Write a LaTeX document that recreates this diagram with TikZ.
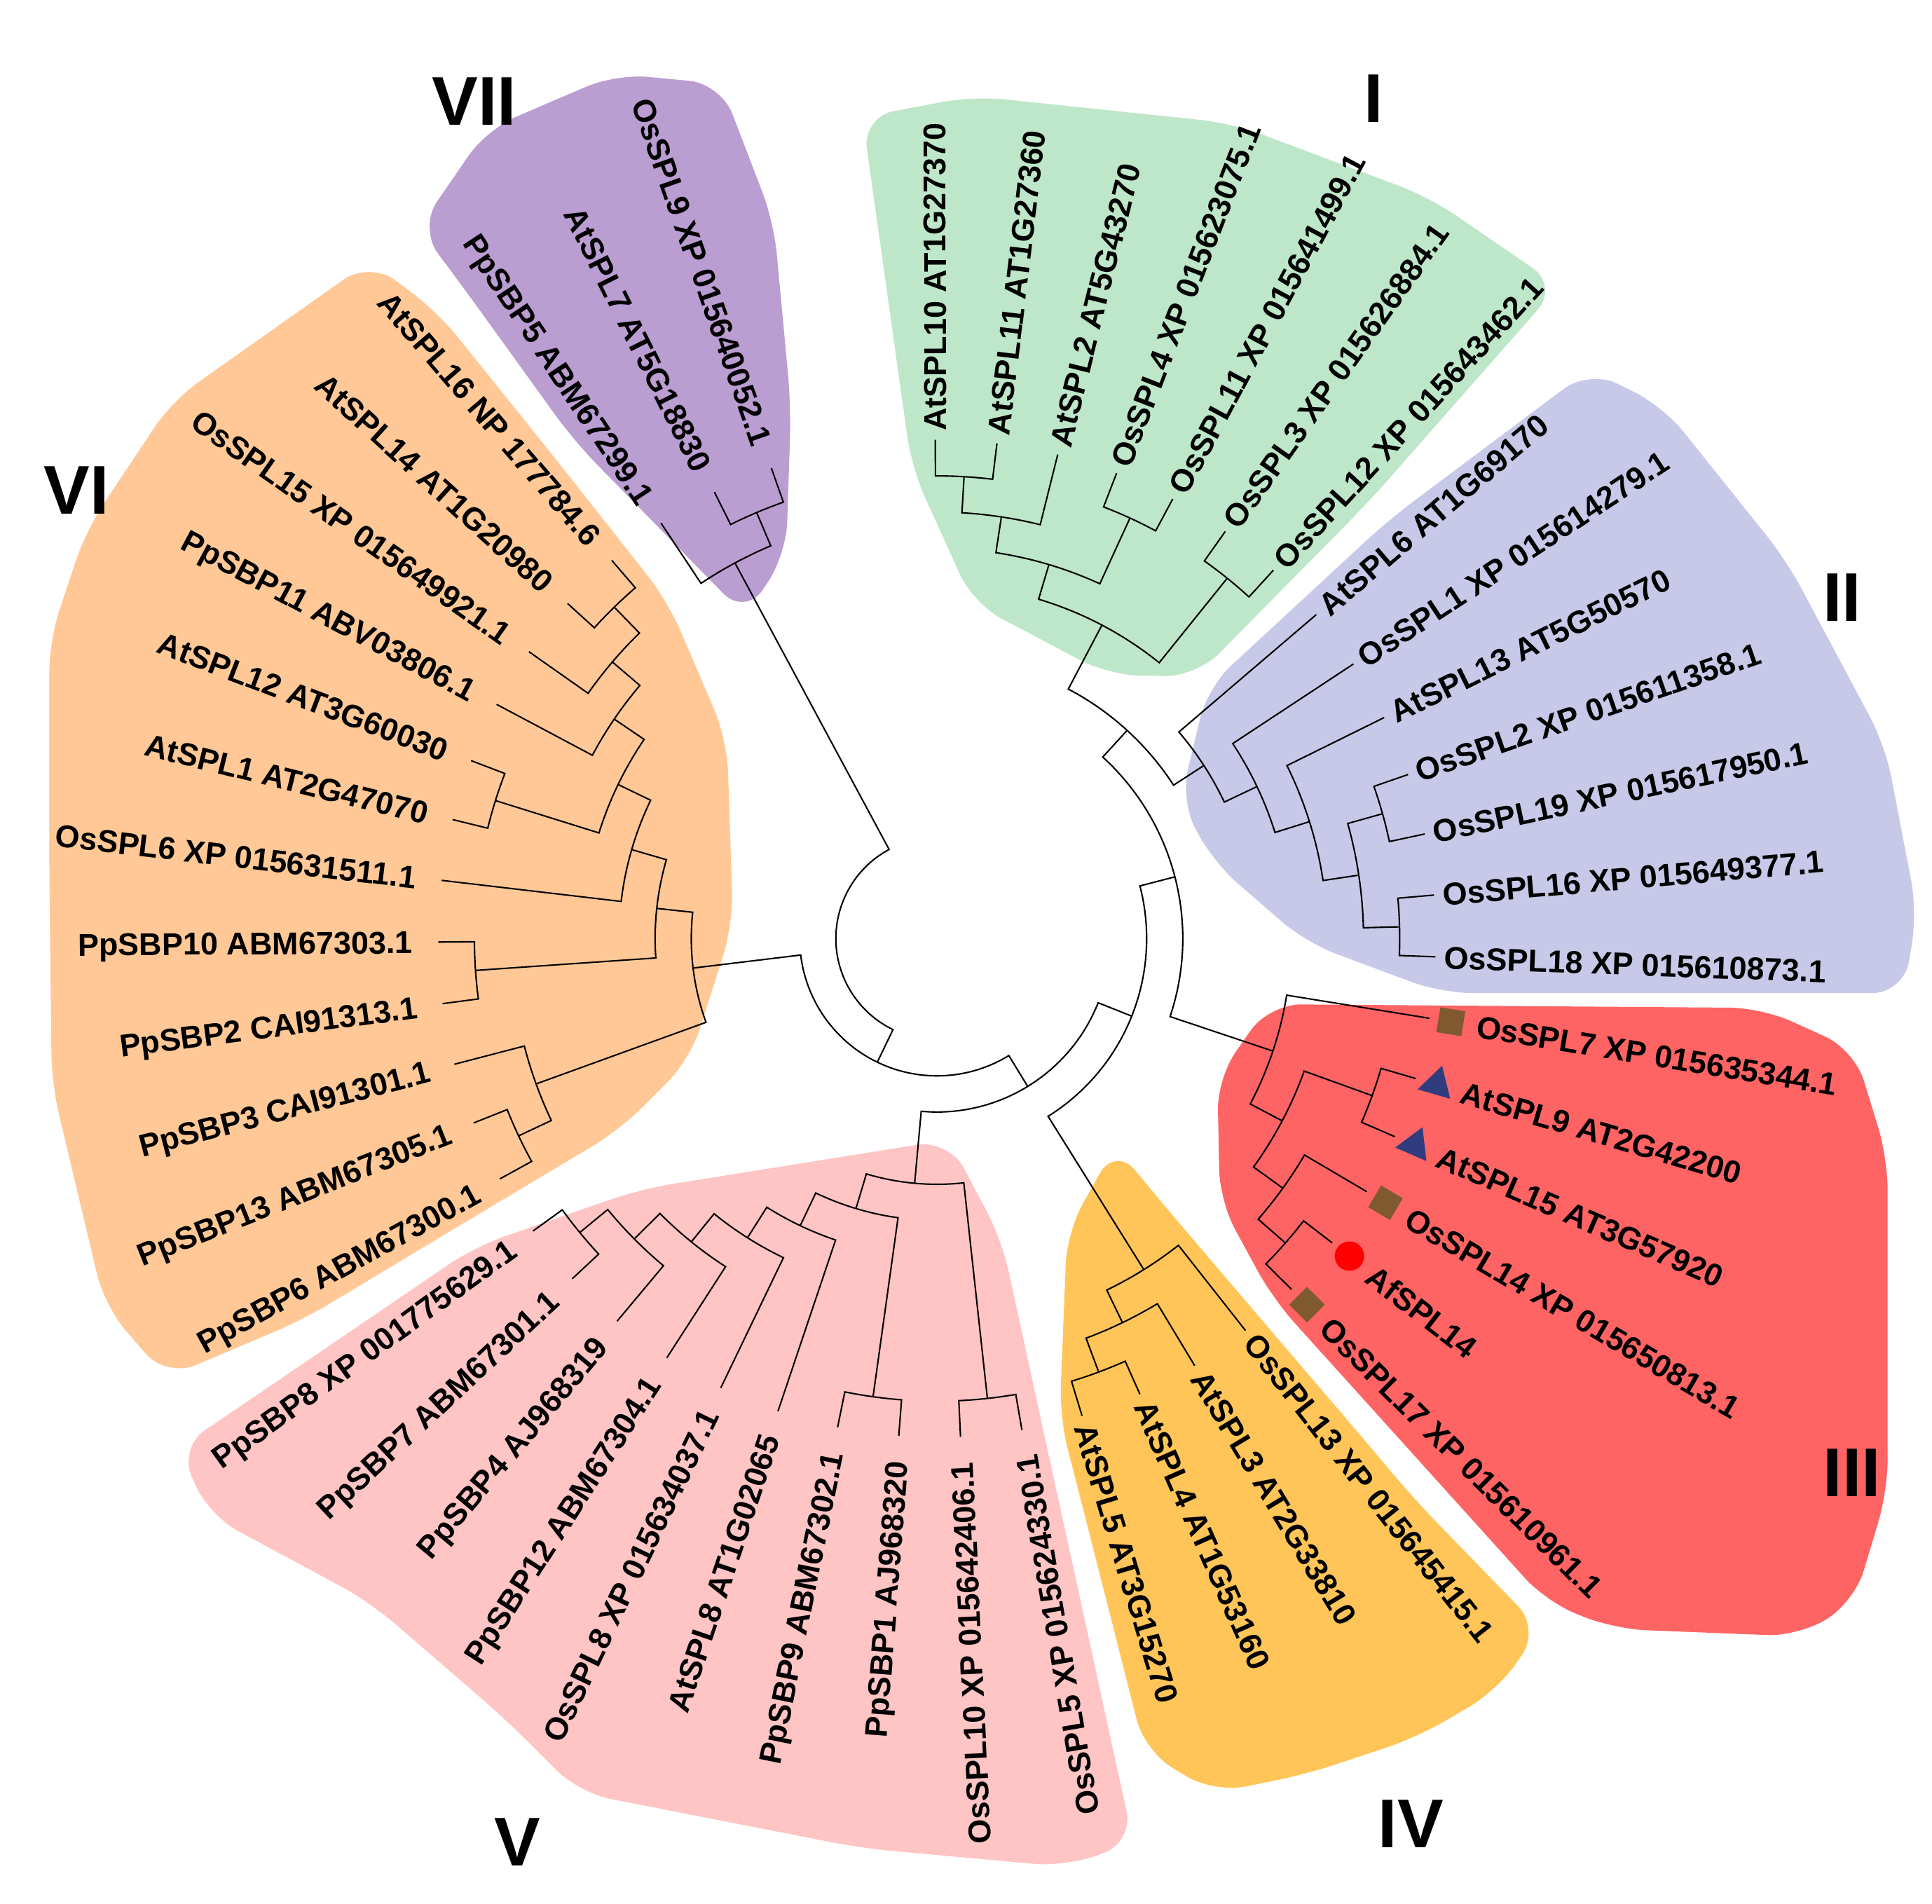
\documentclass[tikz,border=0pt]{standalone}
\usepackage{fontspec}
\setmainfont{Liberation Sans}
\usetikzlibrary{shapes.geometric}

\definecolor{grpI}{HTML}{BEE6C8}
\definecolor{grpII}{HTML}{C8C8E8}
\definecolor{grpIII}{HTML}{FF6464}
\definecolor{grpIV}{HTML}{FFC558}
\definecolor{grpV}{HTML}{FFC4C4}
\definecolor{grpVI}{HTML}{FFC896}
\definecolor{grpVII}{HTML}{BA9DD1}
\definecolor{mkbrown}{HTML}{7F5A2E}
\definecolor{mknavy}{HTML}{2F3C7E}

\tikzset{
  br/.style={line width=0.6pt},
  lab/.style={inner sep=0pt, font=\bfseries\fontsize{12.8}{13}\selectfont, text height=9.2pt, text depth=0pt},
  labR/.style={lab, anchor=west},
  labL/.style={lab, anchor=east},
  grp/.style={font=\bfseries\fontsize{28}{30}\selectfont},
  blob/.style={rounded corners=0.45cm},
  sqm/.style={rectangle, fill=mkbrown, minimum size=0.36cm, inner sep=0pt},
  trm/.style={regular polygon, regular polygon sides=3, fill=mknavy, minimum size=0.56cm, inner sep=0pt},
  cim/.style={circle, fill=red, minimum size=0.42cm, inner sep=0pt},
}

\begin{document}
\begin{tikzpicture}[x=0.01cm, y=0.01cm]
  % group backgrounds and group names
  \begin{scope}[x=0.01758cm, y=-0.01758cm, shift={(-760.5,-761.7)}]
    \useasboundingbox (0,0) rectangle (1568,1545);
    \fill[grpVII, blob] (635,255) -- (642,330) -- (638,450) -- (605,500) -- (466,358) -- (378,236) -- (340,185) -- (395,105) -- (500,60) -- (585,68) -- (628,180) -- cycle;
    \fill[grpI, blob] (1080,130) -- (1160,160) -- (1265,232) -- (1112,406) -- (971,549) -- (900,548) -- (790,490) -- (740,380) -- (700,95) -- (790,78) -- (1000,100) -- cycle;
    \fill[grpII, blob] (1350,806) -- (1170,806) -- (1060,765) -- (985,700) -- (958,650) -- (980,558) -- (1127,422) -- (1290,300) -- (1350,330) -- (1450,455) -- (1530,605) -- (1556,740) -- (1545,806) -- cycle;
    \fill[grpIII, blob] (1532,1080) -- (1532,1210) -- (1505,1300) -- (1460,1328) -- (1310,1322) -- (1255,1300) -- (1033,1054) -- (990,975) -- (988,875) -- (1030,815) -- (1430,818) -- (1505,852) -- (1532,940) -- cycle;
    \fill[grpIV, blob] (1100,1160) -- (1149,1218) -- (1250,1322) -- (1215,1372) -- (1150,1410) -- (1060,1440) -- (985,1455) -- (929,1421) -- (897,1295) -- (860,1150) -- (866,1000) -- (905,930) -- (942,975) -- (1052,1104) -- cycle;
    \fill[grpV, blob] (645,945) -- (770,925) -- (813,1006) -- (845,1153) -- (877,1299) -- (909,1446) -- (920,1495) -- (865,1515) -- (700,1500) -- (470,1455) -- (410,1395) -- (300,1300) -- (170,1230) -- (145,1175) -- (200,1138) -- (385,1012) -- (520,965) -- cycle;
    \fill[grpVI, blob] (40,700) -- (42,880) -- (85,1060) -- (135,1118) -- (246,1071) -- (374,994) -- (503,917) -- (560,860) -- (595,750) -- (590,600) -- (542,488) -- (449,370) -- (355,253) -- (300,212) -- (140,325) -- (70,430) -- (40,520) -- cycle;
    \node[grp] (gI) at (1115,80) {I};
    \node[grp] (gII) at (1495,485) {II};
    \node[grp] (gIII) at (1503,1195) {III};
    \node[grp] (gIV) at (1145,1480) {IV};
    \node[grp] (gV) at (420,1495) {V};
    \node[grp] (gVI) at (62,398) {VI};
    \node[grp] (gVII) at (385,82) {VII};
  \end{scope}

  % leaves, group II
  \coordinate (OsSPL18) at (-2.10:712);
  \node[labR, rotate=-2.10] (tOsSPL18) at (-2.10:724) {OsSPL18 XP 015610873.1};
  \coordinate (OsSPL16) at (5.00:712);
  \node[labR, rotate=5.00] (tOsSPL16) at (5.00:724) {OsSPL16 XP 015649377.1};
  \coordinate (OsSPL19) at (12.10:712);
  \node[labR, rotate=12.10] (tOsSPL19) at (12.10:724) {OsSPL19 XP 015617950.1};
  \coordinate (OsSPL2) at (19.20:712);
  \node[labR, rotate=19.20] (tOsSPL2) at (19.20:724) {OsSPL2 XP 015611358.1};
  \coordinate (AtSPL13) at (26.30:712);
  \node[labR, rotate=26.30] (tAtSPL13) at (26.30:724) {AtSPL13 AT5G50570};
  \coordinate (OsSPL1) at (33.40:712);
  \node[labR, rotate=33.40] (tOsSPL1) at (33.40:724) {OsSPL1 XP 015614279.1};
  \coordinate (AtSPL6) at (40.50:712);
  \node[labR, rotate=40.50] (tAtSPL6) at (40.50:724) {AtSPL6 AT1G69170};
  % leaves, group I
  \coordinate (OsSPL12) at (47.60:712);
  \node[labR, rotate=47.60] (tOsSPL12) at (47.60:724) {OsSPL12 XP 015643462.1};
  \coordinate (OsSPL3) at (54.70:712);
  \node[labR, rotate=54.70] (tOsSPL3) at (54.70:724) {OsSPL3 XP 015626884.1};
  \coordinate (OsSPL11) at (61.80:712);
  \node[labR, rotate=61.80] (tOsSPL11) at (61.80:724) {OsSPL11 XP 015641499.1};
  \coordinate (OsSPL4) at (68.90:712);
  \node[labR, rotate=68.90] (tOsSPL4) at (68.90:724) {OsSPL4 XP 015623075.1};
  \coordinate (AtSPL2) at (76.00:712);
  \node[labR, rotate=76.00] (tAtSPL2) at (76.00:724) {AtSPL2 AT5G43270};
  \coordinate (AtSPL11) at (83.10:712);
  \node[labR, rotate=83.10] (tAtSPL11) at (83.10:724) {AtSPL11 AT1G27360};
  \coordinate (AtSPL10) at (90.20:712);
  \node[labR, rotate=90.20] (tAtSPL10) at (90.20:724) {AtSPL10 AT1G27370};
  % leaves, group VII
  \coordinate (OsSPL9) at (109.40:712);
  \node[labL, rotate=-70.60] (tOsSPL9) at (109.40:748) {OsSPL9 XP 015640052.1};
  \coordinate (AtSPL7) at (116.50:712);
  \node[labL, rotate=-63.50] (tAtSPL7) at (116.50:748) {AtSPL7 AT5G18830};
  \coordinate (PpSBP5) at (123.60:712);
  \node[labL, rotate=-56.40] (tPpSBP5) at (123.60:748) {PpSBP5 ABM67299.1};
  % leaves, group VI
  \coordinate (AtSPL16) at (130.70:712);
  \node[labL, rotate=-49.30] (tAtSPL16) at (130.70:748) {AtSPL16 NP 177784.6};
  \coordinate (AtSPL14) at (137.80:712);
  \node[labL, rotate=-42.20] (tAtSPL14) at (137.80:748) {AtSPL14 AT1G20980};
  \coordinate (OsSPL15) at (144.90:712);
  \node[labL, rotate=-35.10] (tOsSPL15) at (144.90:748) {OsSPL15 XP 015649921.1};
  \coordinate (PpSBP11) at (152.00:712);
  \node[labL, rotate=-28.00] (tPpSBP11) at (152.00:748) {PpSBP11 ABV03806.1};
  \coordinate (AtSPL12) at (159.10:712);
  \node[labL, rotate=-20.90] (tAtSPL12) at (159.10:748) {AtSPL12 AT3G60030};
  \coordinate (AtSPL1) at (166.20:712);
  \node[labL, rotate=-13.80] (tAtSPL1) at (166.20:748) {AtSPL1 AT2G47070};
  \coordinate (OsSPL6) at (173.30:712);
  \node[labL, rotate=-6.70] (tOsSPL6) at (173.30:748) {OsSPL6 XP 015631511.1};
  \coordinate (PpSBP10) at (180.40:712);
  \node[labL, rotate=0.40] (tPpSBP10) at (180.40:748) {PpSBP10 ABM67303.1};
  \coordinate (PpSBP2) at (187.50:712);
  \node[labL, rotate=7.50] (tPpSBP2) at (187.50:748) {PpSBP2 CAI91313.1};
  \coordinate (PpSBP3) at (194.60:712);
  \node[labL, rotate=14.60] (tPpSBP3) at (194.60:748) {PpSBP3 CAI91301.1};
  \coordinate (PpSBP13) at (201.70:712);
  \node[labL, rotate=21.70] (tPpSBP13) at (201.70:748) {PpSBP13 ABM67305.1};
  \coordinate (PpSBP6) at (208.80:712);
  \node[labL, rotate=28.80] (tPpSBP6) at (208.80:748) {PpSBP6 ABM67300.1};
  % leaves, group V
  \coordinate (PpSBP8) at (215.90:712);
  \node[labL, rotate=35.90] (tPpSBP8) at (215.90:748) {PpSBP8 XP 001775629.1};
  \coordinate (PpSBP7) at (223.00:712);
  \node[labL, rotate=43.00] (tPpSBP7) at (223.00:748) {PpSBP7 ABM67301.1};
  \coordinate (PpSBP4) at (230.10:712);
  \node[labL, rotate=50.10] (tPpSBP4) at (230.10:748) {PpSBP4 AJ968319};
  \coordinate (PpSBP12) at (237.20:712);
  \node[labL, rotate=57.20] (tPpSBP12) at (237.20:748) {PpSBP12 ABM67304.1};
  \coordinate (OsSPL8) at (244.30:712);
  \node[labL, rotate=64.30] (tOsSPL8) at (244.30:748) {OsSPL8 XP 015634037.1};
  \coordinate (AtSPL8) at (251.40:712);
  \node[labL, rotate=71.40] (tAtSPL8) at (251.40:748) {AtSPL8 AT1G02065};
  \coordinate (PpSBP9) at (258.50:712);
  \node[labL, rotate=78.50] (tPpSBP9) at (258.50:748) {PpSBP9 ABM67302.1};
  \coordinate (PpSBP1) at (265.60:712);
  \node[labL, rotate=85.60] (tPpSBP1) at (265.60:748) {PpSBP1 AJ968320};
  \coordinate (OsSPL10) at (272.70:712);
  \node[labL, rotate=92.70] (tOsSPL10) at (272.70:748) {OsSPL10 XP 015642406.1};
  \coordinate (OsSPL5) at (279.80:712);
  \node[labL, rotate=99.80] (tOsSPL5) at (279.80:748) {OsSPL5 XP 015624330.1};
  % leaves, group IV
  \coordinate (AtSPL5) at (286.90:712);
  \node[labR, rotate=286.90] (tAtSPL5) at (286.90:724) {AtSPL5 AT3G15270};
  \coordinate (AtSPL4) at (294.00:712);
  \node[labR, rotate=294.00] (tAtSPL4) at (294.00:724) {AtSPL4 AT1G53160};
  \coordinate (AtSPL3) at (301.10:712);
  \node[labR, rotate=301.10] (tAtSPL3) at (301.10:724) {AtSPL3 AT2G33810};
  \coordinate (OsSPL13) at (308.20:712);
  \node[labR, rotate=308.20] (tOsSPL13) at (308.20:724) {OsSPL13 XP 015645415.1};
  % leaves, group III
  \coordinate (OsSPL17) at (315.30:712);
  \node[sqm, rotate=315.30] (mOsSPL17) at (315.30:743) {};
  \node[labR, rotate=315.30] (tOsSPL17) at (315.30:780) {OsSPL17 XP 015610961.1};
  \coordinate (AfSPL14) at (322.40:712);
  \node[cim] (mAfSPL14) at (322.40:743) {};
  \node[labR, rotate=322.40] (tAfSPL14) at (322.40:780) {AfSPL14};
  \coordinate (OsSPL14) at (329.50:712);
  \node[sqm, rotate=329.50] (mOsSPL14) at (329.50:743) {};
  \node[labR, rotate=329.50] (tOsSPL14) at (329.50:780) {OsSPL14 XP 015650813.1};
  \coordinate (AtSPL15) at (336.60:712);
  \node[trm, rotate=336.60] (mAtSPL15) at (336.60:743) {};
  \node[labR, rotate=336.60] (tAtSPL15) at (336.60:780) {AtSPL15 AT3G57920};
  \coordinate (AtSPL9) at (343.70:712);
  \node[trm, rotate=343.70] (mAtSPL9) at (343.70:743) {};
  \node[labR, rotate=343.70] (tAtSPL9) at (343.70:780) {AtSPL9 AT2G42200};
  \coordinate (OsSPL7) at (350.80:712);
  \node[sqm, rotate=350.80] (mOsSPL7) at (350.80:743) {};
  \node[labR, rotate=350.80] (tOsSPL7) at (350.80:780) {OsSPL7 XP 015635344.1};

  % inner nodes
  \coordinate (IIf) at (1.45:660.4);
  \coordinate (IIe) at (15.65:660.4);
  \coordinate (IId) at (8.55:608.8);
  \coordinate (IIc) at (17.425:557.2);
  \coordinate (IIb) at (25.41:505.6);
  \coordinate (IIr) at (32.96:454.0);
  \coordinate (Ie) at (86.65:660.4);
  \coordinate (Id) at (81.325:608.8);
  \coordinate (Ic) at (65.35:660.4);
  \coordinate (Ib) at (73.34:557.2);
  \coordinate (Ia) at (51.15:660.4);
  \coordinate (Ir) at (62.25:505.6);
  \coordinate (IandII) at (47.60:402.4);
  \coordinate (IIIc) at (318.85:660.4);
  \coordinate (IIIb) at (324.175:608.8);
  \coordinate (IIIa) at (340.15:660.4);
  \coordinate (IIIx) at (332.16:557.2);
  \coordinate (IIIr) at (341.48:505.6);
  \coordinate (Outer) at (374.54:350.8);
  \coordinate (IVb) at (290.45:660.4);
  \coordinate (IVa) at (295.775:608.8);
  \coordinate (IVr) at (301.99:557.2);
  \coordinate (Inner) at (338.27:299.2);
  \coordinate (Vf) at (219.45:660.4);
  \coordinate (Ve) at (224.775:608.8);
  \coordinate (Vd) at (230.99:557.2);
  \coordinate (Vc) at (237.645:505.6);
  \coordinate (Vb) at (244.52:454.0);
  \coordinate (Vp) at (262.05:660.4);
  \coordinate (Va) at (253.285:402.4);
  \coordinate (Vq) at (276.25:660.4);
  \coordinate (Vr) at (264.77:350.8);
  \coordinate (Cn) at (301.52:247.6);
  \coordinate (VIa) at (134.25:660.4);
  \coordinate (VIb) at (139.575:608.8);
  \coordinate (VIc) at (145.79:557.2);
  \coordinate (VIp) at (162.65:660.4);
  \coordinate (VId) at (154.22:505.6);
  \coordinate (VIe) at (163.76:454.0);
  \coordinate (VIq) at (183.95:660.4);
  \coordinate (VIf) at (173.86:402.4);
  \coordinate (VIs) at (205.25:660.4);
  \coordinate (VIg) at (199.93:608.8);
  \coordinate (VIr) at (186.90:350.8);
  \coordinate (Bn) at (244.21:196.0);
  \coordinate (VIIa) at (112.95:660.4);
  \coordinate (VIIr) at (118.28:608.8);

  % branches
  \draw[br] (OsSPL16) -- (5.00:660.4) arc[start angle=5.00, end angle=-2.10, radius=660.4] -- (OsSPL18);
  \draw[br] (OsSPL2) -- (19.20:660.4) arc[start angle=19.20, end angle=12.10, radius=660.4] -- (OsSPL19);
  \draw[br] (IIe) -- (15.65:608.8) arc[start angle=15.65, end angle=1.45, radius=608.8] -- (IIf);
  \draw[br] (AtSPL13) -- (26.30:557.2) arc[start angle=26.30, end angle=8.55, radius=557.2] -- (IId);
  \draw[br] (OsSPL1) -- (33.40:505.6) arc[start angle=33.40, end angle=17.425, radius=505.6] -- (IIc);
  \draw[br] (AtSPL6) -- (40.50:454.0) arc[start angle=40.50, end angle=25.41, radius=454.0] -- (IIb);
  \draw[br] (AtSPL10) -- (90.20:660.4) arc[start angle=90.20, end angle=83.10, radius=660.4] -- (AtSPL11);
  \draw[br] (Ie) -- (86.65:608.8) arc[start angle=86.65, end angle=76.00, radius=608.8] -- (AtSPL2);
  \draw[br] (OsSPL4) -- (68.90:660.4) arc[start angle=68.90, end angle=61.80, radius=660.4] -- (OsSPL11);
  \draw[br] (Id) -- (81.325:557.2) arc[start angle=81.325, end angle=65.35, radius=557.2] -- (Ic);
  \draw[br] (OsSPL3) -- (54.70:660.4) arc[start angle=54.70, end angle=47.60, radius=660.4] -- (OsSPL12);
  \draw[br] (Ib) -- (73.34:505.6) arc[start angle=73.34, end angle=51.15, radius=505.6] -- (Ia);
  \draw[br] (Ir) -- (62.25:402.4) arc[start angle=62.25, end angle=32.96, radius=402.4] -- (IIr);
  \draw[br] (AfSPL14) -- (322.40:660.4) arc[start angle=322.40, end angle=315.30, radius=660.4] -- (OsSPL17);
  \draw[br] (OsSPL14) -- (329.50:608.8) arc[start angle=329.50, end angle=318.85, radius=608.8] -- (IIIc);
  \draw[br] (AtSPL9) -- (343.70:660.4) arc[start angle=343.70, end angle=336.60, radius=660.4] -- (AtSPL15);
  \draw[br] (IIIa) -- (340.15:557.2) arc[start angle=340.15, end angle=324.175, radius=557.2] -- (IIIb);
  \draw[br] (OsSPL7) -- (350.80:505.6) arc[start angle=350.80, end angle=332.16, radius=505.6] -- (IIIx);
  \draw[br] (IIIr) -- (341.48:350.8) arc[start angle=341.48, end angle=407.60, radius=350.8] -- (IandII);
  \draw[br] (AtSPL4) -- (294.00:660.4) arc[start angle=294.00, end angle=286.90, radius=660.4] -- (AtSPL5);
  \draw[br] (AtSPL3) -- (301.10:608.8) arc[start angle=301.10, end angle=290.45, radius=608.8] -- (IVb);
  \draw[br] (OsSPL13) -- (308.20:557.2) arc[start angle=308.20, end angle=295.775, radius=557.2] -- (IVa);
  \draw[br] (IVr) -- (301.99:299.2) arc[start angle=301.99, end angle=374.54, radius=299.2] -- (Outer);
  \draw[br] (PpSBP8) -- (215.90:660.4) arc[start angle=215.90, end angle=223.00, radius=660.4] -- (PpSBP7);
  \draw[br] (Vf) -- (219.45:608.8) arc[start angle=219.45, end angle=230.10, radius=608.8] -- (PpSBP4);
  \draw[br] (Ve) -- (224.775:557.2) arc[start angle=224.775, end angle=237.20, radius=557.2] -- (PpSBP12);
  \draw[br] (Vd) -- (230.99:505.6) arc[start angle=230.99, end angle=244.30, radius=505.6] -- (OsSPL8);
  \draw[br] (Vc) -- (237.645:454.0) arc[start angle=237.645, end angle=251.40, radius=454.0] -- (AtSPL8);
  \draw[br] (PpSBP9) -- (258.50:660.4) arc[start angle=258.50, end angle=265.60, radius=660.4] -- (PpSBP1);
  \draw[br] (Vb) -- (244.52:402.4) arc[start angle=244.52, end angle=262.05, radius=402.4] -- (Vp);
  \draw[br] (OsSPL10) -- (272.70:660.4) arc[start angle=272.70, end angle=279.80, radius=660.4] -- (OsSPL5);
  \draw[br] (Va) -- (253.285:350.8) arc[start angle=253.285, end angle=276.25, radius=350.8] -- (Vq);
  \draw[br] (Vr) -- (264.77:247.6) arc[start angle=264.77, end angle=338.27, radius=247.6] -- (Inner);
  \draw[br] (AtSPL16) -- (130.70:660.4) arc[start angle=130.70, end angle=137.80, radius=660.4] -- (AtSPL14);
  \draw[br] (VIa) -- (134.25:608.8) arc[start angle=134.25, end angle=144.90, radius=608.8] -- (OsSPL15);
  \draw[br] (VIb) -- (139.575:557.2) arc[start angle=139.575, end angle=152.00, radius=557.2] -- (PpSBP11);
  \draw[br] (AtSPL12) -- (159.10:660.4) arc[start angle=159.10, end angle=166.20, radius=660.4] -- (AtSPL1);
  \draw[br] (VIc) -- (145.79:505.6) arc[start angle=145.79, end angle=162.65, radius=505.6] -- (VIp);
  \draw[br] (VId) -- (154.22:454.0) arc[start angle=154.22, end angle=173.30, radius=454.0] -- (OsSPL6);
  \draw[br] (PpSBP10) -- (180.40:660.4) arc[start angle=180.40, end angle=187.50, radius=660.4] -- (PpSBP2);
  \draw[br] (VIe) -- (163.76:402.4) arc[start angle=163.76, end angle=183.95, radius=402.4] -- (VIq);
  \draw[br] (PpSBP13) -- (201.70:660.4) arc[start angle=201.70, end angle=208.80, radius=660.4] -- (PpSBP6);
  \draw[br] (PpSBP3) -- (194.60:608.8) arc[start angle=194.60, end angle=205.25, radius=608.8] -- (VIs);
  \draw[br] (VIf) -- (173.86:350.8) arc[start angle=173.86, end angle=199.93, radius=350.8] -- (VIg);
  \draw[br] (VIr) -- (186.90:196.0) arc[start angle=186.90, end angle=301.52, radius=196.0] -- (Cn);
  \draw[br] (OsSPL9) -- (109.40:660.4) arc[start angle=109.40, end angle=116.50, radius=660.4] -- (AtSPL7);
  \draw[br] (VIIa) -- (112.95:608.8) arc[start angle=112.95, end angle=123.60, radius=608.8] -- (PpSBP5);
  \draw[br] (VIIr) -- (118.28:144.4) arc[start angle=118.28, end angle=244.21, radius=144.4] -- (Bn);
\end{tikzpicture}
\end{document}
